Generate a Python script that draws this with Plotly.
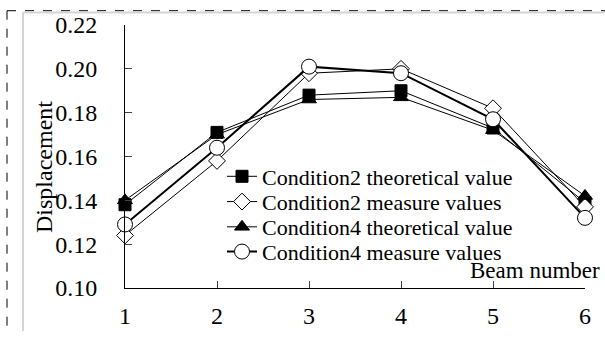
import plotly.graph_objects as go

beams = [1, 2, 3, 4, 5, 6]
c2_theory = [0.138, 0.171, 0.188, 0.190, 0.173, 0.139]
c2_measure = [0.124, 0.158, 0.198, 0.200, 0.182, 0.137]
c4_theory = [0.140, 0.170, 0.186, 0.187, 0.172, 0.142]
c4_measure = [0.129, 0.164, 0.201, 0.198, 0.177, 0.132]
y_ticks = [0.10, 0.12, 0.14, 0.16, 0.18, 0.20, 0.22]

FONT = "Liberation Serif, Times New Roman, serif"
W, H = 605, 341
L, R, T, B = 125, 20, 24, 41
PW, PH = W - L - R, H - T - B

def px(p):
    return (p - L) / PW

def py(q):
    return (H - B - q) / PH

fig = go.Figure()
series = [
    ("Condition2 theoretical value", c2_theory, "square", "black", 12, 1, "legend"),
    ("Condition2 measure values", c2_measure, "diamond", "white", 13, 1, "legend2"),
    ("Condition4 theoretical value", c4_theory, "triangle-up", "black", 13, 1, "legend3"),
    ("Condition4 measure values", c4_measure, "circle", "white", 15, 2, "legend4"),
]
for name, vals, sym, fill, size, lw, lg in series:
    fig.add_trace(go.Scatter(
        x=beams, y=vals, name=name, mode="lines+markers",
        line=dict(color="black", width=lw),
        marker=dict(symbol=sym, size=size, color=fill,
                    line=dict(color="black", width=1)),
        cliponaxis=False, legend=lg,
    ))

legend_rows = [183, 209.5, 236, 262]
legend_names = ["legend", "legend2", "legend3", "legend4"]
legends = {}
for lg, row in zip(legend_names, legend_rows):
    legends[lg] = dict(x=px(222), y=py(row), xanchor="left", yanchor="middle",
                       bgcolor="rgba(0,0,0,0)", font=dict(size=22, family=FONT),
                       borderwidth=0)

fig.update_layout(
    width=W, height=H,
    margin=dict(l=L, r=R, t=T, b=B),
    paper_bgcolor="white", plot_bgcolor="white",
    font=dict(family=FONT, color="black", size=24),
    showlegend=True,
    xaxis=dict(range=[1, 6], tickvals=beams, ticks="inside", ticklen=7,
               showline=True, linecolor="black", linewidth=1,
               showgrid=False, zeroline=False,
               tickfont=dict(size=24, family=FONT), ticklabelstandoff=6),
    yaxis=dict(range=[0.10, 0.22], tickvals=y_ticks, tickformat=".2f",
               ticks="inside", ticklen=7, showline=True, linecolor="black",
               linewidth=1, showgrid=False, zeroline=False,
               tickfont=dict(size=24, family=FONT), ticklabelstandoff=22),
    shapes=[
        dict(type="line", xref="paper", yref="paper", x0=px(7), x1=px(7),
             y0=py(9), y1=py(345), line=dict(color="black", width=1, dash="dash")),
        dict(type="line", xref="paper", yref="paper", x0=px(7), x1=px(610),
             y0=py(9), y1=py(9), line=dict(color="black", width=1, dash="dash")),
        dict(type="line", xref="paper", yref="paper", x0=px(23), x1=px(23),
             y0=py(11), y1=py(345), line=dict(color="#d4d4d4", width=2)),
        dict(type="line", xref="paper", yref="paper", x0=px(23), x1=px(610),
             y0=py(11), y1=py(11), line=dict(color="#d4d4d4", width=2)),
    ],
    annotations=[
        dict(text="Displacement", xref="paper", yref="paper", x=px(44), y=py(173),
             textangle=-90, showarrow=False, font=dict(size=24, family=FONT),
             xanchor="center", yanchor="middle"),
        dict(text="Beam number", xref="paper", yref="paper", x=px(602), y=py(282),
             showarrow=False, font=dict(size=23, family=FONT),
             xanchor="right", yanchor="middle"),
    ],
    **legends,
)

fig.write_html("out.html")
